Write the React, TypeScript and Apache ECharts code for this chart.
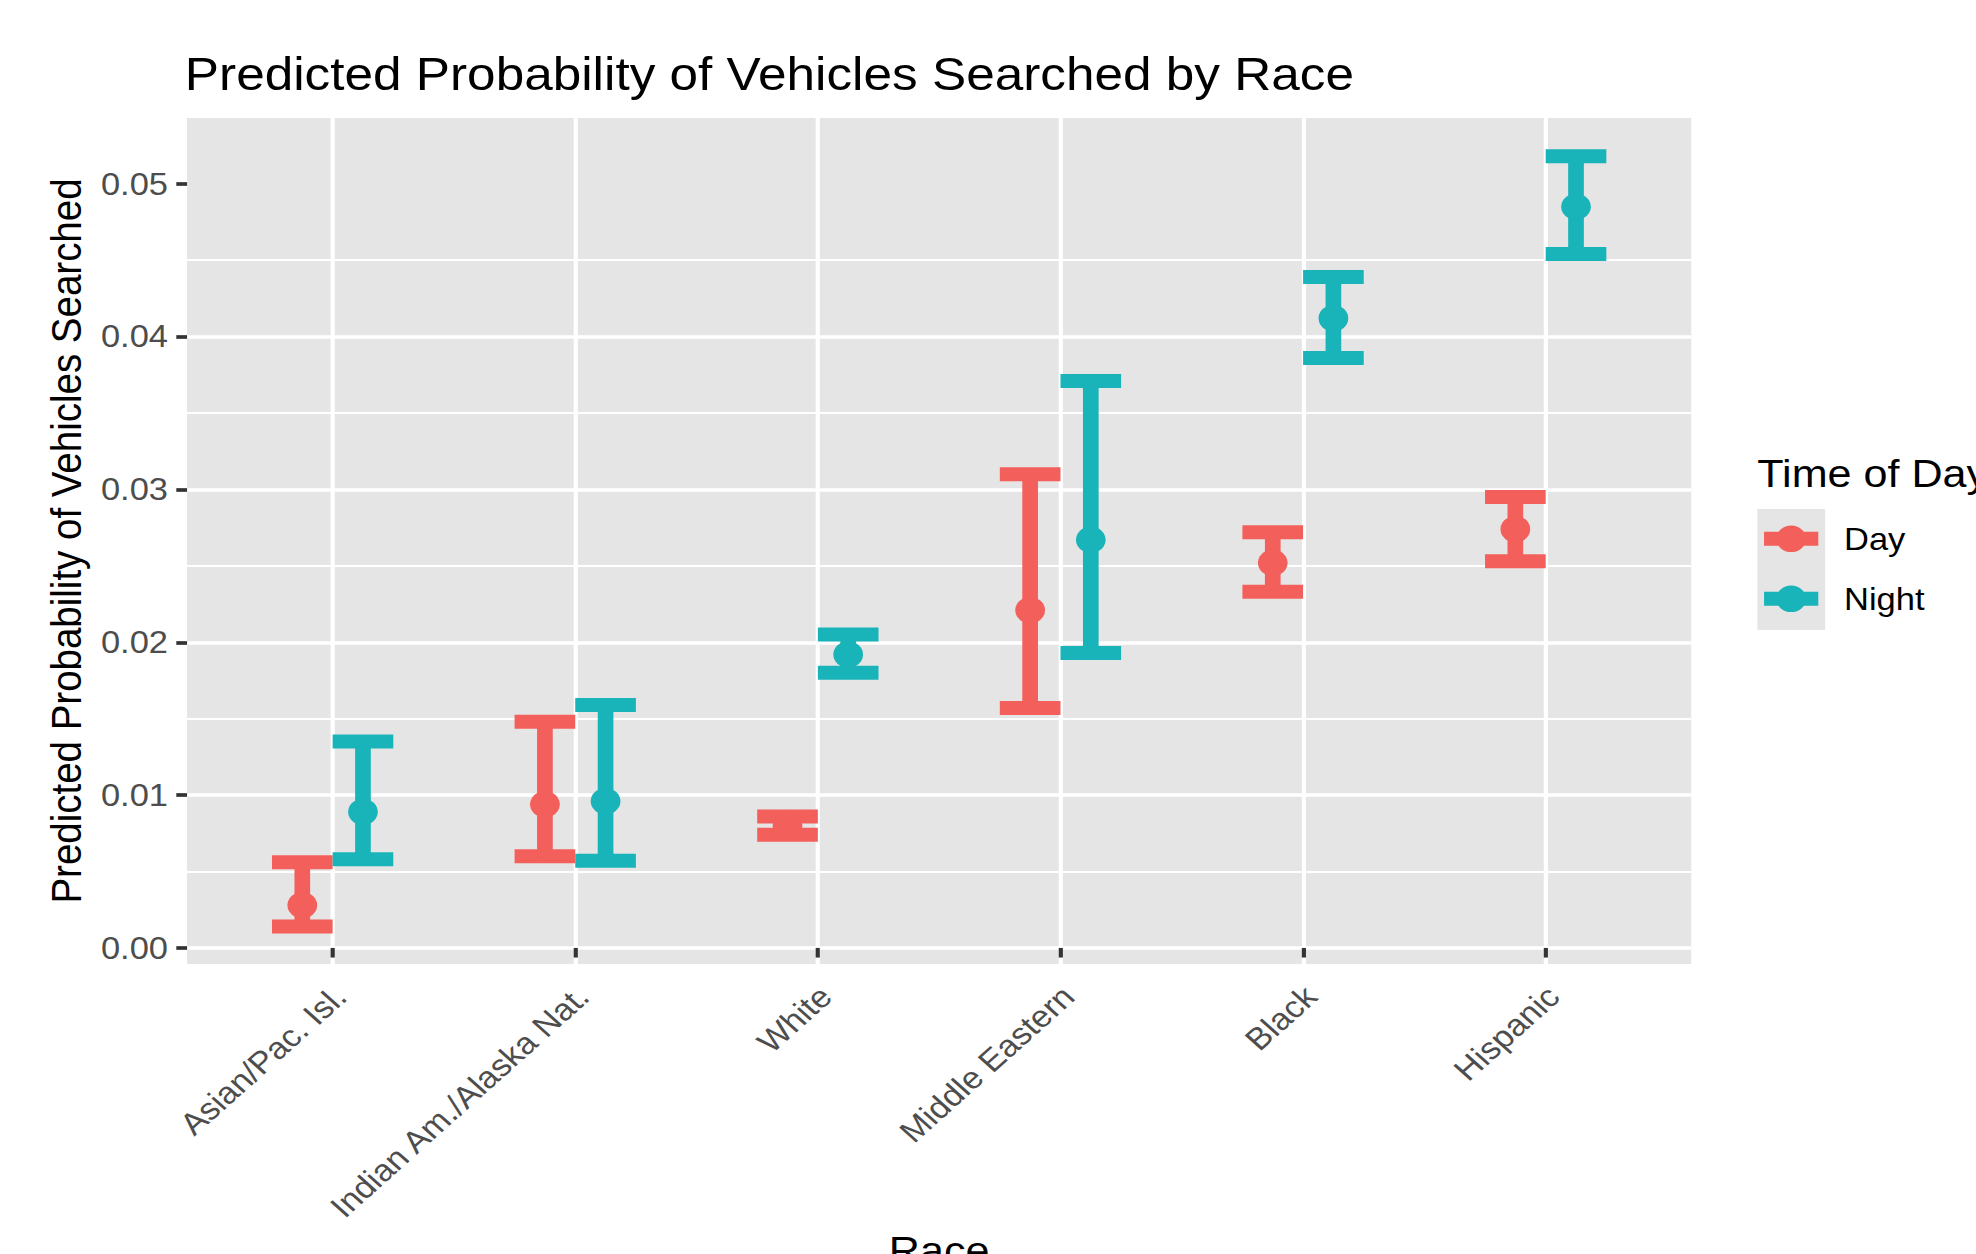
import React, { useEffect, useRef } from 'react';
import * as echarts from 'echarts';

// ---------- data ----------
const categories = [
  'Asian/Pac. Isl.',
  'Indian Am./Alaska Nat.',
  'White',
  'Middle Eastern',
  'Black',
  'Hispanic',
];
const dayEst = [0.0028, 0.0094, 0.008, 0.0221, 0.0252, 0.0274];
const dayLow = [0.0014, 0.006, 0.0074, 0.0157, 0.0233, 0.0253];
const dayHigh = [0.0056, 0.0148, 0.0086, 0.031, 0.0272, 0.0295];
const nightEst = [0.0089, 0.0096, 0.0192, 0.0267, 0.0412, 0.0485];
const nightLow = [0.0058, 0.0057, 0.018, 0.0193, 0.0386, 0.0454];
const nightHigh = [0.0135, 0.0159, 0.0205, 0.0371, 0.0439, 0.0518];
const yTicks = [0, 0.01, 0.02, 0.03, 0.04, 0.05];
const seriesNames = ['Day', 'Night'];

// ---------- layout / style ----------
const FULL_W = 1976;
const FULL_H = 1254;
const W = 1764; // chart drawn narrower, then stretched horizontally like the reference
const SX = FULL_W / W;
const FONT = "'Liberation Sans', Arial, Helvetica, sans-serif";
const DAY_COLOR = '#F35F5A';
const NIGHT_COLOR = '#19B4B9';
const PANEL = '#E5E5E5';
const DODGE = 0.125;
const CAP_W = 0.25;
const LW = 14;
const R = 13.3;

const makeData = (lo: number[], est: number[], hi: number[], off: number) =>
  categories.map((_, i) => [i + 1 + off, lo[i], est[i], hi[i]]);

const renderErrorBar = (params: any, api: any) => {
  const x = api.value(0);
  const lo = api.value(1);
  const mid = api.value(2);
  const hi = api.value(3);
  const pLo = api.coord([x, lo]);
  const pHi = api.coord([x, hi]);
  const pMid = api.coord([x, mid]);
  const half = api.size([CAP_W / 2, 0])[0];
  const color = api.visual('color');
  const ls = { stroke: color, lineWidth: LW, lineCap: 'butt' };
  return {
    type: 'group',
    children: [
      { type: 'line', shape: { x1: pHi[0] - half, y1: pHi[1], x2: pHi[0] + half, y2: pHi[1] }, style: ls },
      { type: 'line', shape: { x1: pLo[0] - half, y1: pLo[1], x2: pLo[0] + half, y2: pLo[1] }, style: ls },
      { type: 'line', shape: { x1: pLo[0], y1: pLo[1], x2: pHi[0], y2: pHi[1] }, style: ls },
      { type: 'circle', shape: { cx: pMid[0], cy: pMid[1], r: R }, style: { fill: color } },
    ],
  };
};

const legendIcon =
  'path://M0,6.3 L48.4,6.3 L48.4,20.3 L0,20.3 Z M10.9,13.3 A13.3,13.3 0 1,1 37.5,13.3 A13.3,13.3 0 1,1 10.9,13.3 Z';

export default function App() {
  const ref = useRef<HTMLDivElement>(null);
  useEffect(() => {
    if (!ref.current) return;
    const chart = echarts.init(ref.current, null, { renderer: 'svg', width: W, height: FULL_H });
    const option: any = {
      animation: false,
      backgroundColor: '#ffffff',
      textStyle: { fontFamily: FONT },
      title: [
        {
          text: 'Predicted Probability of Vehicles Searched by Race',
          left: 165,
          top: 51,
          padding: 0,
          textStyle: { fontSize: 45.8, fontWeight: 'normal', color: '#000', fontFamily: FONT },
        },
        {
          text: 'Time of Day',
          left: 1568.8,
          top: 454,
          padding: 0,
          textStyle: { fontSize: 38.5, fontWeight: 'normal', color: '#000', fontFamily: FONT },
        },
      ],
      graphic: [
        {
          type: 'rect',
          z: 0,
          shape: { x: 1568.8, y: 509, width: 60.5, height: 121 },
          style: { fill: PANEL },
        },
      ],
      legend: {
        orient: 'vertical',
        left: 1574.8,
        top: 523.3,
        padding: 0,
        itemWidth: 48.4,
        itemHeight: 26.6,
        itemGap: 29,
        icon: legendIcon,
        data: seriesNames,
        textStyle: { fontSize: 30.8, color: '#000', fontFamily: FONT, padding: [0, 0, 0, 18] },
      },
      grid: {
        left: 167,
        right: W - 1509.8,
        top: 118,
        bottom: FULL_H - 964,
        show: true,
        backgroundColor: PANEL,
        borderWidth: 0,
        containLabel: false,
        outerBoundsMode: 'none',
      },
      xAxis: {
        type: 'value',
        min: 0.4,
        max: 6.6,
        axisLine: { show: false },
        axisTick: {
          show: true,
          customValues: categories.map((_, i) => i + 1),
          length: 9.6,
          lineStyle: { color: '#333333', width: 3.7 },
        },
        axisLabel: {
          customValues: categories.map((_, i) => i + 1),
          formatter: (v: number) => categories[Math.round(v) - 1] ?? '',
          rotate: 45,
          margin: 34,
          padding: [0, -9.5, 0, 0],
          color: '#4D4D4D',
          fontSize: 30.8,
          fontFamily: FONT,
        },
        splitLine: { show: true, showMinLine: true, showMaxLine: true, lineStyle: { color: '#ffffff', width: 3.7 } },
        name: 'Race',
        nameLocation: 'middle',
        nameGap: 267,
        nameTextStyle: { fontSize: 38.5, color: '#000', fontFamily: FONT },
      },
      yAxis: {
        type: 'value',
        min: -0.00105,
        max: 0.0543,
        axisLine: { show: false },
        axisTick: {
          show: true,
          customValues: yTicks,
          length: 9.6,
          lineStyle: { color: '#333333', width: 3.7 },
        },
        axisLabel: {
          customValues: yTicks,
          formatter: (v: number) => v.toFixed(2),
          margin: 17,
          color: '#4D4D4D',
          fontSize: 30.8,
          fontFamily: FONT,
        },
        splitLine: { show: true, showMinLine: true, showMaxLine: false, lineStyle: { color: '#ffffff', width: 3.7 } },
        minorTick: { show: false, splitNumber: 2 },
        minorSplitLine: { show: true, lineStyle: { color: '#ffffff', width: 1.9 } },
        name: 'Predicted Probability of Vehicles Searched',
        nameLocation: 'middle',
        nameGap: 88,
        nameTextStyle: { fontSize: 38.5, color: '#000', fontFamily: FONT },
      },
      series: [
        {
          name: 'Day',
          type: 'custom',
          itemStyle: { color: DAY_COLOR },
          renderItem: renderErrorBar,
          encode: { x: 0, y: [1, 2, 3] },
          data: makeData(dayLow, dayEst, dayHigh, -DODGE),
          clip: false,
          z: 3,
        },
        {
          name: 'Night',
          type: 'custom',
          itemStyle: { color: NIGHT_COLOR },
          renderItem: renderErrorBar,
          encode: { x: 0, y: [1, 2, 3] },
          data: makeData(nightLow, nightEst, nightHigh, DODGE),
          clip: false,
          z: 3,
        },
      ],
    };
    chart.setOption(option);
    return () => chart.dispose();
  }, []);

  return (
    <div
      style={{
        position: 'absolute',
        left: 0,
        top: 0,
        width: FULL_W,
        height: FULL_H,
        overflow: 'hidden',
        background: '#fff',
      }}
    >
      <div
        ref={ref}
        style={{ width: W, height: FULL_H, transform: `scaleX(${SX})`, transformOrigin: '0 0' }}
      />
    </div>
  );
}
